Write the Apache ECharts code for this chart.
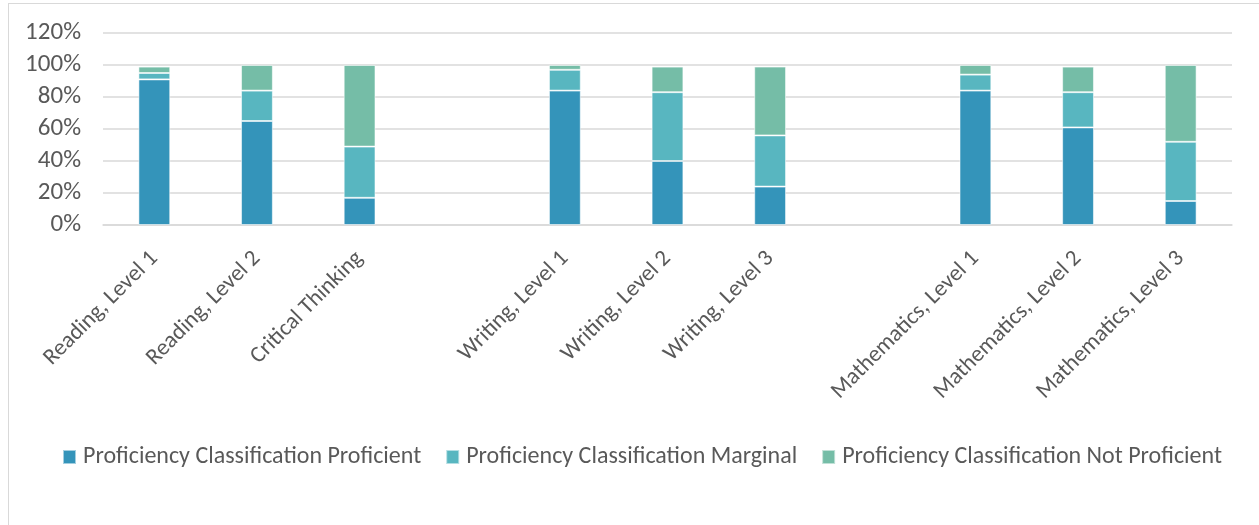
<!DOCTYPE html>
<html>
<head>
<meta charset="utf-8">
<script src="https://cdn.jsdelivr.net/npm/echarts@6/dist/echarts.min.js"></script>
<style>
  html, body { margin: 0; padding: 0; background: #fff; }
  #frame { position: absolute; left: 8px; top: 3px; width: 1270px; height: 540px; border: 1.5px solid #d9d9d9; box-sizing: border-box; }
  #chart { position: absolute; left: 0; top: 0; width: 1259px; height: 525px; }
</style>
</head>
<body>
<div id="frame"></div>
<div id="chart"></div>
<script>
const categories = ['Reading, Level 1', 'Reading, Level 2', 'Critical Thinking', '',
  'Writing, Level 1', 'Writing, Level 2', 'Writing, Level 3', '',
  'Mathematics, Level 1', 'Mathematics, Level 2', 'Mathematics, Level 3'];
const seriesNames = ['Proficiency Classification Proficient',
  'Proficiency Classification Marginal',
  'Proficiency Classification Not Proficient'];
const proficient    = [0.91, 0.65, 0.17, null, 0.84, 0.40, 0.24, null, 0.84, 0.61, 0.15];
const marginal      = [0.04, 0.19, 0.32, null, 0.13, 0.43, 0.32, null, 0.10, 0.22, 0.37];
const notProficient = [0.04, 0.16, 0.51, null, 0.03, 0.16, 0.43, null, 0.06, 0.16, 0.48];
const yTicks = [0, 0.2, 0.4, 0.6, 0.8, 1.0, 1.2];

const colors = ['#3494BA', '#58B6C0', '#75BDA7'];
const FONT = 'Carlito, Lato, sans-serif';
const chart = echarts.init(document.getElementById('chart'), null, { renderer: 'canvas' });
const values = [proficient, marginal, notProficient];
chart.setOption({
  animation: false,
  color: colors,
  textStyle: { fontFamily: FONT },
  grid: { left: 103, right: 27, top: 33, bottom: 300, containLabel: false },
  legend: {
    bottom: 51, left: 57,
    itemWidth: 13, itemHeight: 14, itemGap: 24,
    icon: 'rect',
    textStyle: { fontFamily: FONT, fontSize: 24, color: '#595959', padding: [0, 0, 0, 2] },
    data: seriesNames
  },
  xAxis: {
    type: 'category',
    data: categories,
    axisLine: { lineStyle: { color: '#d9d9d9', width: 1.5 } },
    axisTick: { show: false },
    axisLabel: { interval: 0, rotate: 45, margin: 30, fontFamily: FONT, fontSize: 23, color: '#595959' }
  },
  yAxis: {
    type: 'value',
    min: yTicks[0], max: yTicks[yTicks.length - 1], interval: 0.2,
    axisLine: { show: false },
    axisTick: { show: false },
    splitLine: { lineStyle: { color: '#d9d9d9', width: 1.5 } },
    axisLabel: {
      margin: 22, fontFamily: FONT, fontSize: 25, color: '#595959',
      formatter: v => Math.round(v * 100) + '%'
    }
  },
  series: seriesNames.map((n, i) => ({
    name: n,
    type: 'bar',
    stack: 'total',
    barWidth: '31%',
    data: values[i],
    itemStyle: { color: colors[i], borderColor: 'rgba(255,255,255,0.55)', borderWidth: 1 }
  }))
});
</script>
</body>
</html>
